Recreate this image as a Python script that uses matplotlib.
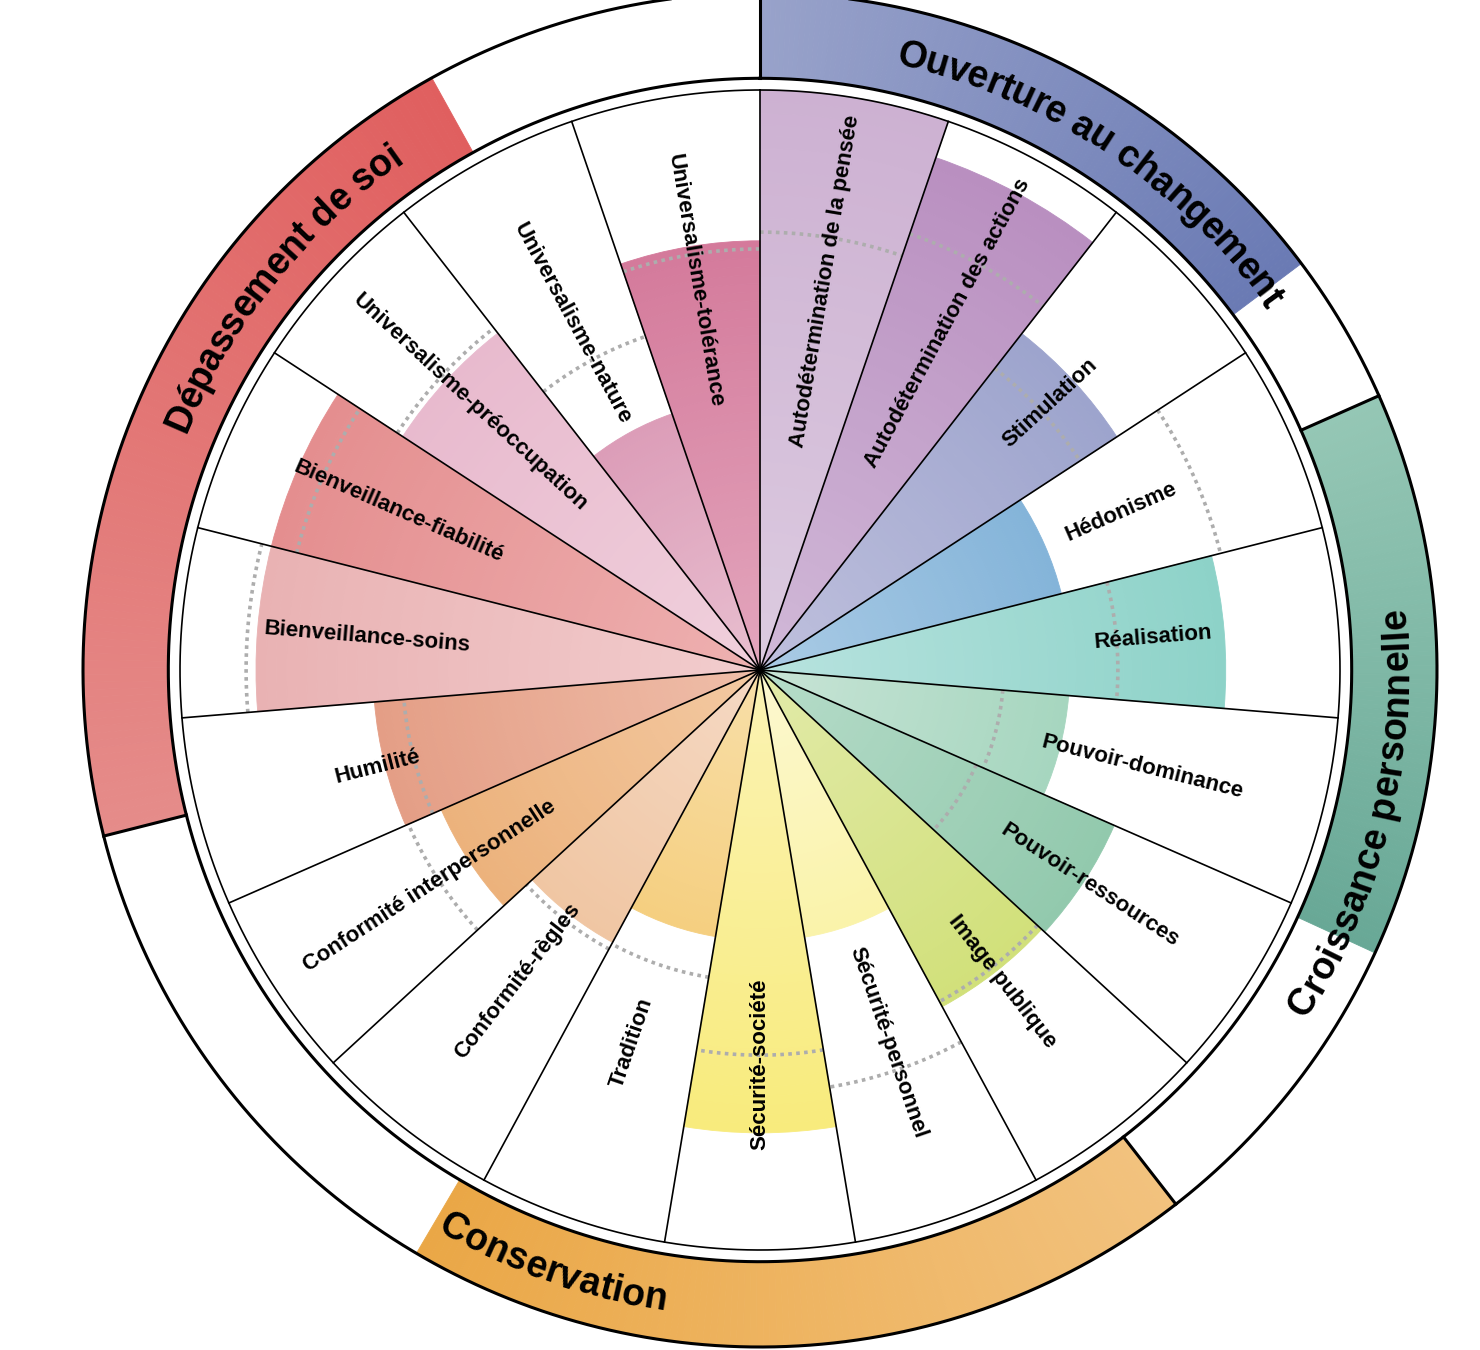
import numpy as np
import matplotlib
matplotlib.use("Agg")
import matplotlib.pyplot as plt
from matplotlib.colors import to_rgb
from matplotlib.font_manager import FontProperties

# ---------------- data ----------------
labels = ["Autodétermination de la pensée", "Autodétermination des actions", "Stimulation",
          "Hédonisme", "Réalisation", "Pouvoir-dominance", "Pouvoir-ressources",
          "Image publique", "Sécurité-personnel", "Sécurité-société", "Tradition",
          "Conformité-règles", "Conformité interpersonnelle", "Humilité",
          "Bienveillance-soins", "Bienveillance-fiabilité", "Universalisme-préoccupation",
          "Universalisme-nature", "Universalisme-tolérance"]
scores = [1.00, 0.934, 0.735, 0.536, 0.803, 0.534, 0.667, 0.66, 0.467, 0.798,
          0.466, 0.534, 0.600, 0.667, 0.869, 0.869, 0.736, 0.467, 0.740]
reference = [0.755, 0.795, 0.659, 0.819, 0.617, 0.420, 0.407, 0.650, 0.729, 0.664,
             0.537, 0.547, 0.662, 0.616, 0.886, 0.824, 0.747, 0.608, 0.726]
outer_colors = ["#cdb1d2", "#b98fc0", "#9da4cd", "#84b4d9", "#8dd2c8", "#a6d6bf",
                "#92c9ad", "#d1e07a", "#faf3aa", "#f8eb7c", "#f5cf80", "#f0c6a3",
                "#ecb27c", "#e49e86", "#e9b2b3", "#e48e8f", "#e8bace", "#dc9db8", "#d47a9b"]
inner_colors = ["#dccbe0", "#d1b9d8", "#bfc0dd", "#aacbe5", "#b8e3df", "#c8e4d6",
                "#b6dcc9", "#e2eaa9", "#fcf8d0", "#fbf3b4", "#f8dfa9", "#f5d9c4",
                "#f3c9a2", "#efbea9", "#f2cdce", "#eeb1b1", "#f0d0dc", "#e8bfd0", "#e3a6bd"]

groups = ["Ouverture au changement", "Croissance personnelle", "Conservation", "Dépassement de soi"]
group_start = [0.0, 66.1, 142.1, 255.8]      # degrees, clockwise from top
group_end = [53.1, 114.7, 210.5, 331.0]
group_text_center = [33.6, 103.5, 199.2, 308.7]
group_text_outward = [True, False, False, True]
group_color_start = ["#98a2ca", "#95c7b5", "#f2c27e", "#e58c8a"]
group_color_end = ["#6a7ab4", "#68a896", "#eaa746", "#e05f5f"]

# ---------------- layout ----------------
W, H = 1480, 1350
cx, cy = 760, 670
R = 580.0           # pixel radius of the value circle (r = 1)
RAX = 700.0
FONT = "Liberation Sans"

fig = plt.figure(figsize=(W / 100, H / 100), dpi=100)
ax = fig.add_axes([(cx - RAX) / W, (H - cy - RAX) / H, 2 * RAX / W, 2 * RAX / H],
                  projection="polar")
ax.set_theta_zero_location("N")
ax.set_theta_direction(-1)
ax.set_ylim(0, RAX / R)
ax.axis("off")

n = len(labels)
width = 2 * np.pi / n
theta_c = (np.arange(n) + 0.5) * width

# bars with radial gradient
NSEG = 50
for i in range(n):
    ci = np.array(to_rgb(inner_colors[i]))
    co = np.array(to_rgb(outer_colors[i]))
    edges = np.linspace(0, scores[i], NSEG + 1)
    t = (np.arange(NSEG) + 0.5) / NSEG
    cols = [tuple(ci + (co - ci) * tt) for tt in t]
    ax.bar(np.full(NSEG, theta_c[i]), np.diff(edges), width=width, bottom=edges[:-1],
           color=cols, edgecolor=cols, linewidth=0.6, zorder=1)

# dotted reference arcs
for i in range(n):
    th = np.linspace(i * width, (i + 1) * width, 100)
    ax.plot(th, np.full_like(th, reference[i]), color="#adadad", lw=2.6,
            ls=(0, (1.0, 1.2)), zorder=2)

# sector separators
for i in range(n):
    ax.plot([i * width, i * width], [0, 1.0], color="black", lw=1.2, zorder=3)

# circles
full = np.linspace(0, 2 * np.pi, 720)
R_IN = 1.0
R_B0 = 591.7 / R
R_B1 = 677.0 / R

# group bands
for g in range(len(groups)):
    s, e = np.radians(group_start[g]), np.radians(group_end[g])
    NB = 120
    ed = np.linspace(s, e, NB + 1)
    mids = (ed[:-1] + ed[1:]) / 2
    c0 = np.array(to_rgb(group_color_start[g]))
    c1 = np.array(to_rgb(group_color_end[g]))
    tt = (np.arange(NB) + 0.5) / NB
    cols = [tuple(c0 + (c1 - c0) * t) for t in tt]
    ax.bar(mids, np.full(NB, R_B1 - R_B0), width=(e - s) / NB, bottom=R_B0,
           color=cols, edgecolor=cols, linewidth=0.6, zorder=1)
    ax.plot([s, s], [R_B0, R_B1], color="black", lw=2.2, zorder=4)

ax.plot(full, np.full_like(full, R_IN), color="black", lw=1.2, zorder=4)
ax.plot(full, np.full_like(full, R_B0), color="black", lw=2.2, zorder=4)
ax.plot(full, np.full_like(full, R_B1), color="black", lw=2.2, zorder=4)

# value labels
for i in range(n):
    phi = np.degrees(theta_c[i])
    rot = 90 - phi if phi < 179.5 else 270 - phi
    ax.text(theta_c[i], 0.68, labels[i], rotation=rot, rotation_mode="anchor",
            ha="center", va="center", fontsize=16, fontweight="bold",
            family=FONT, color="black", zorder=5)

# curved group titles
renderer = fig.canvas.get_renderer()
TSIZE = 27
prop = FontProperties(family=FONT, weight="bold", size=TSIZE)
wx = renderer.get_text_width_height_descent("x", prop, ismath=False)[0]


def text_w(s):
    if not s:
        return 0.0
    return renderer.get_text_width_height_descent(s + "x", prop, ismath=False)[0] - wx


cap = 0.716 * TSIZE * 100 / 72.0
r_mid = (R_B0 + R_B1) / 2 * R
for g, txt in enumerate(groups):
    outward = group_text_outward[g]
    r_base_px = r_mid - cap / 2 if outward else r_mid + cap / 2
    r_sp = r_mid
    total = text_w(txt)
    for j, ch in enumerate(txt):
        if ch == " ":
            continue
        mid = (text_w(txt[:j]) + text_w(txt[:j + 1])) / 2 - total / 2
        dphi = np.degrees(mid / r_sp)
        if outward:
            phi = group_text_center[g] + dphi
            rot = -phi
        else:
            phi = group_text_center[g] - dphi
            rot = 180 - phi
        ax.text(np.radians(phi), r_base_px / R, ch, rotation=rot, rotation_mode="anchor",
                ha="center", va="baseline", fontproperties=prop, color="black", zorder=6)

fig.savefig("out.png", dpi=100)
